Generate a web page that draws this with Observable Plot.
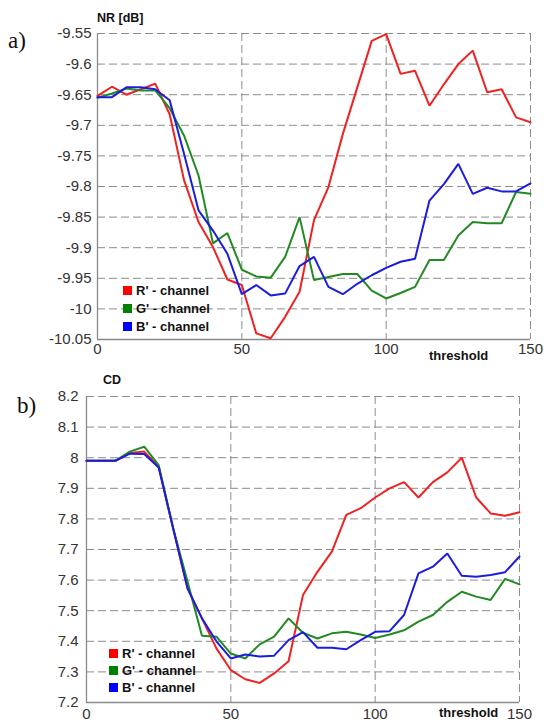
<!DOCTYPE html>
<html><head><meta charset="utf-8">
<script src="https://cdn.jsdelivr.net/npm/d3@7"></script>
<script src="https://cdn.jsdelivr.net/npm/@observablehq/plot@0.6"></script>
<style>
html,body{margin:0;padding:0;background:#fff}
body{width:544px;height:722px;overflow:hidden;font-family:Arial,"Liberation Sans",sans-serif}
#wrap{position:relative;width:544px;height:722px;overflow:hidden}
.panel{position:absolute;left:0}
.panel svg{display:block}
.lbl{position:absolute;font-family:"Liberation Serif","Times New Roman",serif;font-size:23px;line-height:23px;color:#111;white-space:nowrap}
.ttl{position:absolute;font-weight:bold;font-size:12.5px;line-height:12.5px;color:#111;white-space:nowrap}
.thr{position:absolute;font-weight:bold;font-size:13px;line-height:13px;color:#111;white-space:nowrap}
.legend{position:absolute;font-weight:bold;font-size:13px;color:#111;white-space:nowrap}
.legend .row{display:flex;align-items:center}
.legend .sw{display:inline-block;width:9px;height:9px;margin-right:4px}
</style>
</head><body>
<div id="wrap">
  <div class="lbl" style="left:8px;top:29px">a)</div>
  <div class="ttl" style="left:97px;top:12px">NR [dB]</div>
  <div class="panel" id="pa" style="top:0px"></div>
  <div class="thr" style="left:429px;top:349px">threshold</div>
  <div class="legend" id="lega" style="left:123px;top:281px"></div>

  <div class="lbl" style="left:17px;top:394px">b)</div>
  <div class="ttl" style="left:103px;top:374px">CD</div>
  <div class="panel" id="pb" style="top:362px"></div>
  <div class="thr" style="left:439px;top:706px">threshold</div>
  <div class="legend" id="legb" style="left:109px;top:645px"></div>
</div>
<script>
// ---- data ----
const channels = ["R' - channel", "G' - channel", "B' - channel"];
const lineColors = ["#ee2222", "#238a23", "#1c1ce0"];
const swatchColors = ["#ff0000", "#008000", "#0000ff"];

const thresholds = [0,5,10,15,20,25,30,35,40,45,50,55,60,65,70,75,80,85,90,95,100,105,110,115,120,125,130,135,140,145,150];

const nrR = [-9.652,-9.637,-9.650,-9.641,-9.632,-9.682,-9.790,-9.858,-9.899,-9.952,-9.961,-10.040,-10.048,-10.013,-9.972,-9.855,-9.801,-9.714,-9.638,-9.562,-9.551,-9.616,-9.611,-9.668,-9.633,-9.600,-9.578,-9.646,-9.641,-9.687,-9.695];
const nrG = [-9.655,-9.648,-9.640,-9.643,-9.643,-9.672,-9.717,-9.782,-9.893,-9.876,-9.936,-9.947,-9.949,-9.915,-9.850,-9.953,-9.948,-9.943,-9.943,-9.970,-9.983,-9.974,-9.964,-9.920,-9.920,-9.880,-9.858,-9.860,-9.860,-9.809,-9.812];
const nrB = [-9.654,-9.654,-9.638,-9.638,-9.641,-9.659,-9.747,-9.839,-9.872,-9.910,-9.976,-9.961,-9.978,-9.975,-9.930,-9.915,-9.964,-9.976,-9.959,-9.945,-9.933,-9.923,-9.918,-9.823,-9.796,-9.763,-9.812,-9.802,-9.808,-9.808,-9.795];

const cdR = [7.990,7.990,7.990,8.015,8.020,7.971,7.769,7.573,7.475,7.377,7.306,7.276,7.264,7.295,7.335,7.551,7.627,7.693,7.813,7.835,7.870,7.900,7.920,7.870,7.920,7.952,8.000,7.870,7.818,7.810,7.822];
const cdG = [7.990,7.990,7.990,8.020,8.036,7.976,7.770,7.595,7.418,7.415,7.360,7.344,7.390,7.415,7.475,7.428,7.409,7.426,7.431,7.422,7.411,7.422,7.436,7.464,7.486,7.529,7.562,7.546,7.535,7.604,7.586];
const cdB = [7.990,7.990,7.990,8.013,8.012,7.968,7.770,7.573,7.475,7.400,7.344,7.357,7.350,7.353,7.404,7.430,7.379,7.379,7.374,7.404,7.431,7.433,7.486,7.622,7.644,7.687,7.614,7.611,7.617,7.626,7.677];

const xTicks = [0, 50, 100, 150];
const xGrid = [50, 100, 150];
const nrTicks = [-10.05,-10,-9.95,-9.9,-9.85,-9.8,-9.75,-9.7,-9.65,-9.6,-9.55];
const cdTicks = [7.2,7.3,7.4,7.5,7.6,7.7,7.8,7.9,8,8.1,8.2];

// ---- drawing ----
function makePanel({series, yTicks, height, marginTop, marginBottom, marginLeft, marginRight, yPad, xPad}) {
  const rows = [];
  series.forEach((vals, k) => vals.forEach((v, i) => rows.push({t: thresholds[i], v, ch: channels[k]})));
  const dash = {stroke: "#8c8c8c", strokeOpacity: 1, strokeWidth: 1, strokeDasharray: "8,4"};
  return Plot.plot({
    width: 544, height, marginTop, marginBottom, marginLeft, marginRight,
    style: {fontFamily: "Arial, 'Liberation Sans', sans-serif", fontSize: "15px", color: "#333", background: "transparent", overflow: "visible"},
    x: {domain: [xTicks[0], xTicks[xTicks.length - 1]]},
    y: {domain: [yTicks[0], yTicks[yTicks.length - 1]]},
    color: {domain: channels, range: lineColors},
    marks: [
      Plot.gridY(yTicks.slice(1), dash),
      Plot.gridX(xGrid, dash),
      Plot.ruleX([xTicks[0]], {stroke: "#8a8a8a", strokeWidth: 1.3}),
      Plot.ruleY([yTicks[0]], {stroke: "#8a8a8a", strokeWidth: 1.3}),
      Plot.axisY(yTicks, {tickSize: 0, tickPadding: yPad, tickFormat: d => String(d), label: null, fill: "#333"}),
      Plot.axisX(xTicks, {tickSize: 0, tickPadding: xPad, tickFormat: d => String(d), label: null, fill: "#333"}),
      Plot.line(rows, {x: "t", y: "v", z: "ch", stroke: "ch", strokeWidth: 2, strokeLinejoin: "miter"})
    ]
  });
}

function legend(el, rowH) {
  channels.forEach((c, k) => {
    const r = document.createElement("div");
    r.className = "row";
    r.style.height = rowH + "px";
    const s = document.createElement("span");
    s.className = "sw";
    s.style.background = swatchColors[k];
    const t = document.createElement("span");
    t.textContent = c;
    r.appendChild(s); r.appendChild(t);
    el.appendChild(r);
  });
}

document.getElementById("pa").appendChild(makePanel({
  series: [nrR, nrG, nrB], yTicks: nrTicks, height: 362,
  marginTop: 33, marginBottom: 23, marginLeft: 97, marginRight: 14, yPad: 6, xPad: 4
}));
document.getElementById("pb").appendChild(makePanel({
  series: [cdR, cdG, cdB], yTicks: cdTicks, height: 360,
  marginTop: 34, marginBottom: 20, marginLeft: 86, marginRight: 25, yPad: 8, xPad: 6
}));
legend(document.getElementById("lega"), 18);
legend(document.getElementById("legb"), 17);
</script>
</body></html>
